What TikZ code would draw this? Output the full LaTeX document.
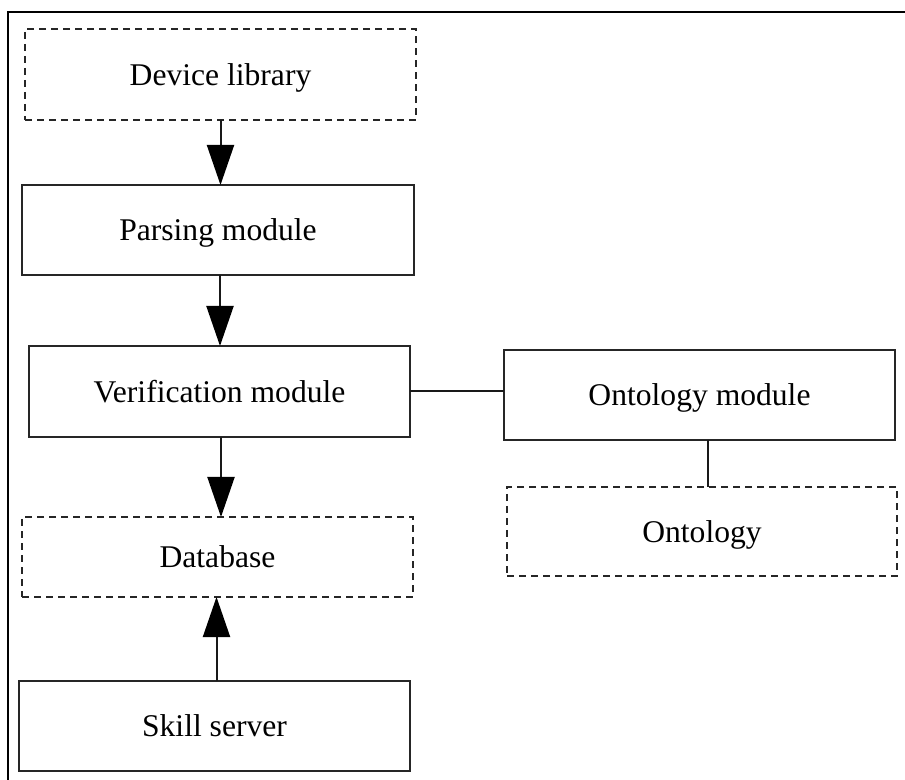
\documentclass[tikz,border=0pt]{standalone}
\usepackage{fontspec}
\setmainfont{Liberation Serif}
\usetikzlibrary{arrows.meta}
\begin{document}
\begin{tikzpicture}[x=0.5pt,y=-0.5pt,
  box/.style={draw=black!85,line width=1pt,rectangle,inner sep=0pt,outer sep=0pt,
    text depth=0pt,font=\fontsize{15.8pt}{19pt}\selectfont},
  dbox/.style={box,dash pattern=on 3.5pt off 2.5pt},
  conn/.style={line width=1pt,draw=black!90},
  arr/.style={conn,-{Triangle[length=20pt,width=13.5pt,fill=black,color=black]}}]
\useasboundingbox (0,0) rectangle (905,780);
\coordinate (bl) at (8,780);
\coordinate (tl) at (8,12);
\coordinate (tr) at (905,12);
\draw[line width=1pt] (bl) -- (tl) -- (tr);

\node[dbox,minimum width=195.5pt,minimum height=45.5pt] (dev) at (220.5,74.5) {Device library};
\node[box,minimum width=196pt,minimum height=45pt] (parse) at (218,230) {Parsing module};
\node[box,minimum width=190.5pt,minimum height=45.5pt] (verif) at (219.5,391.5) {Verification module};
\node[box,minimum width=195.5pt,minimum height=45pt] (om) at (699.5,395) {Ontology module};
\node[dbox,minimum width=195pt,minimum height=44.5pt] (ont) at (702,531.5) {Ontology};
\node[dbox,minimum width=195.5pt,minimum height=40pt] (db) at (217.5,557) {Database};
\node[box,minimum width=195.5pt,minimum height=45pt] (skill) at (214.5,726) {Skill server};

\draw[arr] (dev.south) -- (dev.south |- parse.north);
\draw[arr] ([xshift=1pt]parse.south) -- ([xshift=1pt]parse.south |- verif.north);
\draw[arr] ([xshift=0.75pt]verif.south) -- ([xshift=0.75pt]verif.south |- db.north);
\draw[arr] ([xshift=1pt]skill.north) -- ([xshift=1pt]skill.north |- db.south);
\draw[conn] (verif.east) -- (verif.east -| om.west);
\draw[conn] ([xshift=4.25pt]om.south) -- ([xshift=4.25pt]om.south |- ont.north);
\end{tikzpicture}
\end{document}
